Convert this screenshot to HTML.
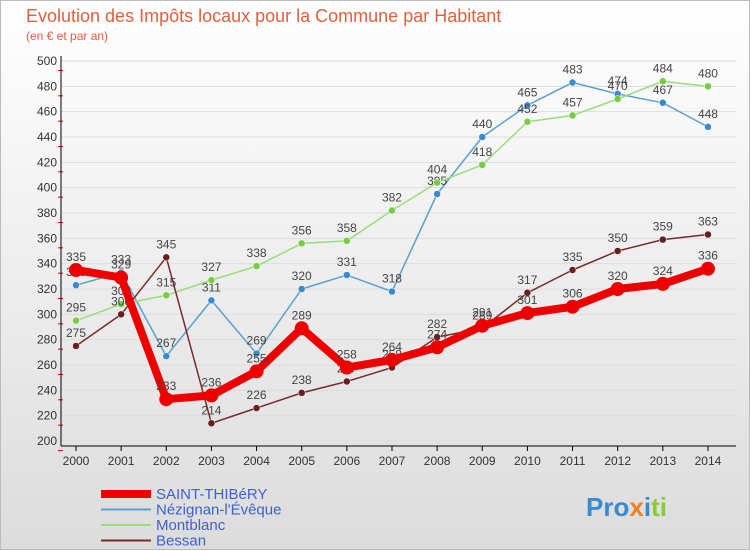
<!DOCTYPE html>
<html><head><meta charset="utf-8"><style>
body{margin:0;width:750px;height:550px;overflow:hidden;font-family:"Liberation Sans",sans-serif;}
#wrap{position:relative;width:748px;height:548px;border:1px solid #bbb;background:linear-gradient(#fff,#dcdcdc);}
.t{position:absolute;color:#e06040;}
</style></head><body>
<div id="wrap">
<div class="t" style="left:25px;top:5px;font-size:18px">Evolution des Impôts locaux pour la Commune par Habitant</div>
<div class="t" style="left:25px;top:28px;font-size:12px">(en € et par an)</div>
<svg id="c" width="750" height="550" style="position:absolute;left:0;top:0"></svg>
</div>
<script>
const years=[2000,2001,2002,2003,2004,2005,2006,2007,2008,2009,2010,2011,2012,2013,2014];
const saint=[335,329,233,236,255,289,258,264,274,291,301,306,320,324,336];
const nez=[323,333,267,311,269,320,331,318,395,440,465,483,474,467,448];
const mont=[295,308,315,327,338,356,358,382,404,418,452,457,470,484,480];
const bessan=[275,300,345,214,226,238,247,258,282,289,317,335,350,359,363];
const yTicks=[200,220,240,260,280,300,320,340,360,380,400,420,440,460,480,500];
const names=["SAINT-THIBéRY","Nézignan-l'Évêque","Montblanc","Bessan"];
const NS="http://www.w3.org/2000/svg";
const svg=document.getElementById('c');
const X=i=>75+i*45.14;
const Y=v=>440-(v-200)*380/300;
function mk(t,a){const e=document.createElementNS(NS,t);for(const k in a)e.setAttribute(k,a[k]);svg.appendChild(e);return e;}
for(const v of yTicks){
 const g=mk('line',{x1:60,x2:735,y1:Y(v),y2:Y(v),stroke:'#ddd'});
 
 
 const t=mk('text',{x:56,y:Y(v)+4,'text-anchor':'end','font-size':12,fill:'#333'});t.textContent=v;
 
 
 mk('line',{x1:57,x2:62,y1:Y(v)+9.5,y2:Y(v)+9.5,stroke:'#e00'});
}
const ax=mk('line',{x1:60,x2:60,y1:55,y2:445,stroke:'#000'});


const ax2=mk('line',{x1:60,x2:735,y1:445,y2:445,stroke:'#000'});


years.forEach((y,i)=>{
 mk('line',{x1:X(i),x2:X(i),y1:445,y2:450,stroke:'#000'});
 const t=mk('text',{x:X(i),y:464,'text-anchor':'middle','font-size':12,fill:'#333'});t.textContent=y;
 
 
});
function series(d,col,w,r,name,dotcol){
 const p=mk('polyline',{points:d.map((v,i)=>X(i)+','+Y(v)).join(' '),fill:'none',stroke:col,'stroke-width':w,'stroke-linejoin':'round'});
 
 
 d.forEach((v,i)=>{
  const c=mk('circle',{cx:X(i),cy:Y(v),r:r,fill:dotcol,stroke:'#fff','stroke-width':r>5?0:0.5});
  
  
  const t=mk('text',{x:X(i),y:Y(v)-9,'text-anchor':'middle','font-size':12,fill:'#444'});t.textContent=v;
  
  
 });
}
series(nez,'#5aa0d0',1.5,3.5,'nezignan','#3a8ad0');
series(mont,'#99dd77',1.5,3.5,'montblanc','#77cc44');
series(bessan,'#7a2a2a',1.5,3.5,'bessan','#662020');
series(saint,'#ee0000',8,7,'saint-thibery','#ee0000');
const lc=['#ee0000','#5aa0d0','#99dd77','#7a2a2a'];
names.forEach((n,i)=>{
 const y=493+i*15.5;
 const l=mk('line',{x1:100,x2:150,y1:y,y2:y,stroke:lc[i],'stroke-width':i==0?8:2});
 
 
 const t=mk('text',{x:155,y:y+5,'font-size':15,fill:'#4060d0'});t.textContent=n;
 
 
});
const lg=mk('text',{x:585,y:515,'font-size':26,'font-weight':'bold',fill:'#3a8ad0'});
lg.innerHTML='<tspan fill="#3a8ad0">Pro</tspan><tspan fill="#f08020">x</tspan><tspan fill="#3a8ad0">i</tspan><tspan fill="#88cc33">ti</tspan>';


</script>
</body></html>
